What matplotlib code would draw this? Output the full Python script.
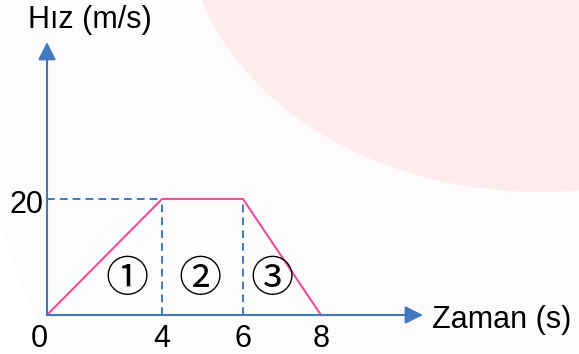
import numpy as np
import matplotlib
matplotlib.use("Agg")
import matplotlib.pyplot as plt
from matplotlib.patches import Ellipse, Circle
from matplotlib.transforms import offset_copy

# speed-time graph corners
zaman = [0, 4, 6, 8]          # s
hiz = [0, 20, 20, 0]          # m/s
x_ticks = [0, 4, 6, 8]
y_ticks = [20]
regions = ["①", "②", "③"]
x_label = "Zaman (s)"
y_label = "Hız (m/s)"

W, H, DPI = 579, 354, 100
BLUE = "#4179bf"
PINK = "#ee4c9d"
FONT = ["Liberation Sans", "DejaVu Sans"]
plt.rcParams["font.family"] = FONT

# the sketch is not drawn to scale: pixel x of each time mark
px_origin, py_origin = 47, 315
t_anchor = [-10, 0, 4, 6, 8, 30]
px_anchor = [47 - 287.5, 47, 162, 243, 321, 321 + 22 * 39]
py_per_unit = (315 - 199) / 20.0


def fwd(t):
    return np.interp(t, t_anchor, px_anchor)


def inv(p):
    return np.interp(p, px_anchor, t_anchor)


fig = plt.figure(figsize=(W / DPI, H / DPI), dpi=DPI, facecolor="white")

# background decoration in pixel coords
bg = fig.add_axes([0, 0, 1, 1], zorder=0)
bg.set_xlim(0, W)
bg.set_ylim(H, 0)
bg.axis("off")
bg.add_patch(Circle((672, 26), 700, color="#fdfbfc", lw=0))
bg.add_patch(Ellipse((540, -80), 2 * 354, 2 * 272, color="#fdeced", lw=0))

ax = fig.add_axes([0, 0, 1, 1], zorder=1)
ax.patch.set_alpha(0)
ax.set_xscale("function", functions=(fwd, inv))
ax.set_xlim(inv(0), inv(W))
ax.set_ylim(-(H - py_origin) / py_per_unit, py_origin / py_per_unit)
ax.axis("off")

# axes with arrows
x_tip = float(inv(423))
y_tip = (py_origin - 42) / py_per_unit
arrow = dict(arrowstyle="-|>,head_length=0.4,head_width=0.2", color=BLUE, lw=1.5,
             mutation_scale=27, shrinkA=0, shrinkB=0)
ax.annotate("", xy=(x_tip, 0), xytext=(0, 0), arrowprops=arrow)
ax.annotate("", xy=(0, y_tip), xytext=(0, 0), arrowprops=arrow)

# dashed guides to the plateau
v_top = max(hiz)
dash = dict(color=BLUE, lw=1.4, ls=(0, (4.0, 2.6)))
ax.plot([0, zaman[1]], [v_top, v_top], **dash)
for t in zaman[1:3]:
    ax.plot([t, t], [0, v_top], **dash)

ax.plot(zaman, hiz, color=PINK, lw=1.5, solid_joinstyle="miter")

# tick labels
for t in x_ticks:
    dx = -8 if t == 0 else 0
    tr = offset_copy(ax.transData, fig=fig, x=dx, y=-32, units="dots")
    ax.text(t, 0, str(t), transform=tr, ha="center", va="baseline", fontsize=22)
for v in y_ticks:
    tr = offset_copy(ax.transData, fig=fig, x=-3, y=-14, units="dots")
    ax.text(0, v, str(v), transform=tr, ha="right", va="baseline", fontsize=22)

# axis titles
tr = offset_copy(ax.transData, fig=fig, x=385, y=-13, units="dots")
ax.text(0, 0, x_label, transform=tr, ha="left", va="baseline", fontsize=22)
tr = offset_copy(ax.transData, fig=fig, x=-19, y=0, units="dots")
ax.text(0, (py_origin - 28) / py_per_unit, y_label, transform=tr, ha="left",
        va="baseline", fontsize=22)

# region numbers
region_t = [2.8, 4.95, 6.75]
for t, lab in zip(region_t, regions):
    ax.text(t, (py_origin - 280) / py_per_unit, lab, ha="center", va="center",
            fontsize=31, family=["Noto Sans CJK JP", "DejaVu Sans"])

fig.savefig("out.png", dpi=DPI, facecolor=fig.get_facecolor())
